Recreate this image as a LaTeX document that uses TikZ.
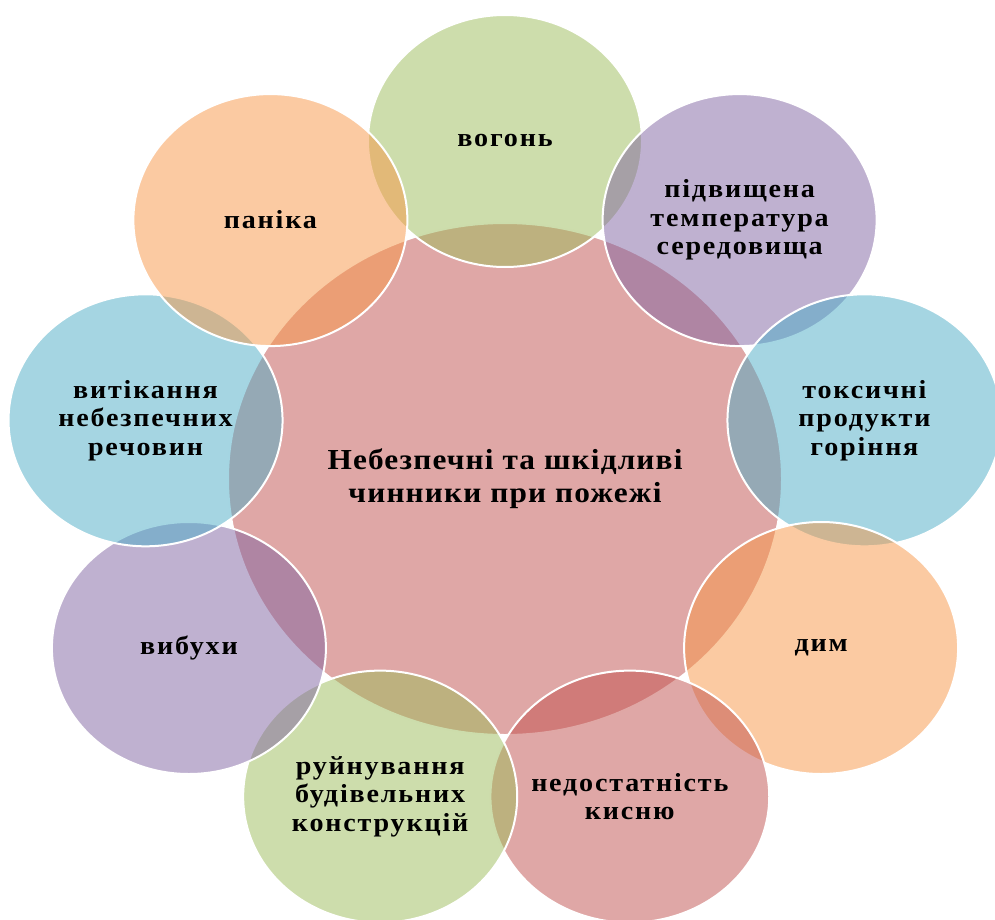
\documentclass[tikz,border=0pt]{standalone}
\usepackage{fontspec}
\setmainfont{Liberation Serif}
\newfontfamily\hubfont[FakeStretch=1.08,LetterSpace=4]{Liberation Serif}
\newfontfamily\petalfont[FakeStretch=1.08,LetterSpace=7]{Liberation Serif}
\usetikzlibrary{shapes.geometric}
\definecolor{accRed}{RGB}{192,80,77}
\definecolor{accGreen}{RGB}{155,187,89}
\definecolor{accPurple}{RGB}{128,100,162}
\definecolor{accAqua}{RGB}{75,172,198}
\definecolor{accOrange}{RGB}{247,150,70}

\begin{document}
\begin{tikzpicture}[x=1pt,y=-1pt,
  hub/.style={ellipse, fill=accRed, fill opacity=0.5, text opacity=1,
    draw=white, line width=2pt, minimum width=554pt, minimum height=512pt,
    inner sep=0pt, align=center, font=\hubfont\bfseries\fontsize{29}{33}\selectfont},
  petal/.style={ellipse, fill=#1, fill opacity=0.5, text opacity=1,
    draw=white, line width=2pt, minimum width=274pt, minimum height=252pt,
    inner sep=0pt, align=center, font=\petalfont\bfseries\fontsize{26}{28.5}\selectfont}]
  \useasboundingbox (0,0) rectangle (995,920);
  \clip (0,0) rectangle (995,920);
  % centre
  \node[hub] (hub) at (505,479) {Небезпечні та шкідливі\\чинники при пожежі};
  % outer ring, clockwise from the top
  \foreach \ang/\col/\name/\txt in {
      90/accGreen/fire/{вогонь},
      50/accPurple/heat/{підвищена\\температура\\середовища},
      10/accAqua/toxic/{токсичні\\продукти\\горіння},
      -30/accOrange/smoke/{дим},
      -70/accRed/oxygen/{недостатність\\кисню},
      -110/accGreen/collapse/{руйнування\\будівельних\\конструкцій},
      -150/accPurple/blast/{вибухи},
      170/accAqua/leak/{витікання\\небезпечних\\речовин},
      130/accOrange/panic/{паніка}}
    \node[petal=\col] (\name) at ({505+365*cos(\ang)},{479-338*sin(\ang)}) {\txt};
\end{tikzpicture}
\end{document}
